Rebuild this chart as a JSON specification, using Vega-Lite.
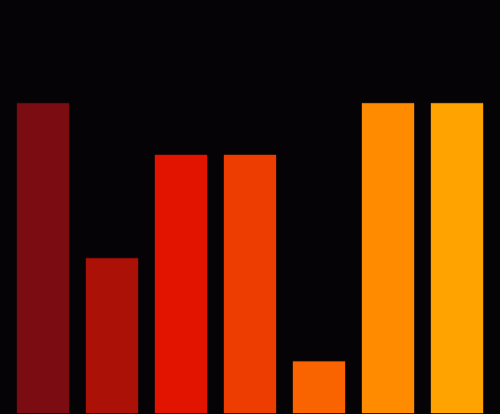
{
  "$schema": "https://vega.github.io/schema/vega-lite/v6.json",
  "width": 500,
  "height": 414,
  "autosize": {"type": "fit", "contains": "padding"},
  "padding": 0,
  "background": "#050305",
  "config": {"view": {"stroke": null}},
  "data": {
    "values": [
      {"cat": "a", "value": 6, "color": "#7b0c12"},
      {"cat": "b", "value": 3, "color": "#ab1107"},
      {"cat": "c", "value": 5, "color": "#e21400"},
      {"cat": "d", "value": 5, "color": "#ee3d00"},
      {"cat": "e", "value": 1, "color": "#f96400"},
      {"cat": "f", "value": 6, "color": "#ff8c00"},
      {"cat": "g", "value": 6, "color": "#ffa300"}
    ]
  },
  "mark": {"type": "bar", "strokeWidth": 0.6, "strokeOpacity": 0.6},
  "encoding": {
    "x": {
      "field": "cat",
      "type": "nominal",
      "axis": null,
      "scale": {"paddingInner": 0.246, "paddingOuter": 0.246}
    },
    "y": {
      "field": "value",
      "type": "quantitative",
      "axis": null,
      "scale": {"domain": [0, 8], "nice": false}
    },
    "color": {"field": "color", "type": "nominal", "scale": null},
    "stroke": {"field": "color", "type": "nominal", "scale": null}
  }
}
